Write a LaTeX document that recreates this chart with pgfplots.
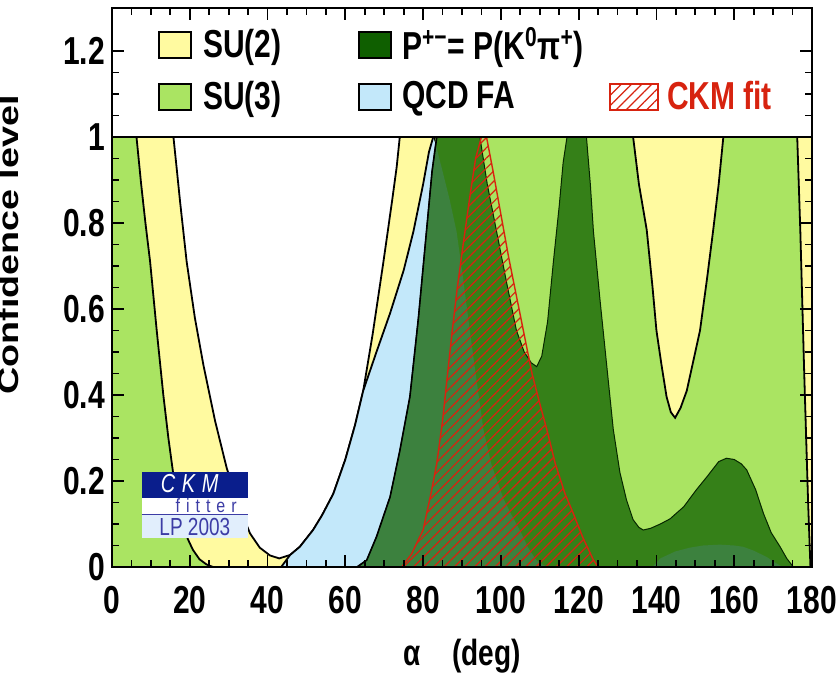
\documentclass[border=0pt]{standalone}
\usepackage{fontspec}
\setmainfont{Liberation Sans}
\usepackage{graphicx}
\usepackage{pgfplots}
\pgfplotsset{compat=1.18}
\usetikzlibrary{patterns.meta}

\definecolor{suyellow}{RGB}{255,250,160}
\definecolor{sugreen}{RGB}{170,228,98}
\definecolor{qcdblue}{RGB}{195,232,250}
\definecolor{pgreen}{RGB}{15,95,0}
\definecolor{ckmred}{RGB}{215,35,15}
\definecolor{ckmblue}{RGB}{10,30,140}
\definecolor{lpblue}{RGB}{225,238,252}
\definecolor{txtblue}{RGB}{60,60,165}

\pgfplotsset{
  legbox/.style={legend image code/.code={\draw[##1] (0pt,-6.5pt) rectangle (16pt,6.5pt);}},
  legboxwide/.style={legend image code/.code={\draw[##1] (0pt,-6.5pt) rectangle (24pt,6.5pt);}},
}
\newcommand\fnt{\fontsize{15}{18}\selectfont\bfseries}
\newcommand\st[1]{\scalebox{1}[1.3]{#1}}
\newcommand\strt{\rule[-6.7pt]{0pt}{20.4pt}}

\begin{document}
\begin{tikzpicture}
\begin{axis}[
  width=350pt, height=279.5pt, scale only axis,
  xmin=0, xmax=180, ymin=0, ymax=1.3,
  xtick={0,20,40,60,80,100,120,140,160,180},
  ytick={0,0.2,0.4,0.6,0.8,1,1.2},
  minor x tick num=3, minor y tick num=3,
  tick align=inside, major tick length=6pt, minor tick length=3.5pt,
  axis line style={line width=1.2pt},
  every tick/.style={black, line width=0.9pt},
  axis on top,
  /pgf/number format/assume math mode=true,
  tick label style={font=\fnt, yscale=1.3},
  xticklabel style={yshift=-4pt},
  xlabel={\st{\fontsize{14}{17}\selectfont\bfseries α\hspace{16pt}(deg)}},
  xlabel style={at={(axis description cs:0.5,-0.1592)}, anchor=center},
  ylabel={\scalebox{1.3}[1]{\fontsize{14.5}{17}\selectfont\bfseries Confidence level}},
  ylabel style={at={(axis description cs:-0.1329,0.576)}, anchor=base},
  legend columns=3,
  legend cell align=left,
  legend style={at={(axis cs:11.83,1.255)}, anchor=north west, draw=none, fill=none,
    inner sep=0pt, outer sep=0pt, column sep=0pt, row sep=9pt,
    nodes={inner sep=0pt, outer sep=0pt}, font=\fnt},
]

% SU(2)
\addplot[forget plot, fill=suyellow, draw=black, line width=0.9pt] coordinates {
(0,1) (15.8,1) (16.6,0.93) (17.5,0.85) (19.2,0.71) (21.3,0.58) (23.5,0.47) (26.5,0.34)
(29.5,0.23) (32.5,0.145) (35.5,0.078) (38,0.045) (40.6,0.027) (43,0.02) (45.8,0.028)
(48.3,0.047) (51.7,0.086) (54,0.12) (56.9,0.17) (60,0.25) (62.5,0.33) (64.6,0.41)
(67,0.54) (69.8,0.71) (72,0.85) (73.2,0.93) (74,1) (180,1)
} \closedcycle;

% SU(3)
\addplot[forget plot, fill=sugreen, draw=black, line width=0.9pt] coordinates {
(0,1) (6.3,1) (7.5,0.89) (8.6,0.8) (9.8,0.71) (11.5,0.55) (13.2,0.40) (14.5,0.30)
(15.7,0.22) (17,0.155) (18.3,0.10) (19.5,0.065) (20.8,0.04) (22.5,0.018) (24.3,0.006)
(26,0) (62,0) (66,0.15) (70,0.35) (74,0.55) (78,0.75) (81,0.92) (83,1) (134,1)
(135.5,0.89) (137.5,0.784) (139,0.65) (140,0.55) (141.3,0.47) (142.6,0.396) (143.7,0.36)
(144.8,0.347) (146.2,0.37) (147.8,0.41) (149.5,0.48) (151.2,0.55) (153,0.67) (154.6,0.784)
(156,0.89) (157.2,1) (176.2,1) (177,0.78) (178,0.45) (179,0.15) (179.6,0) (180,0)
} \closedcycle;

% QCD FA (fill, then outline of its left flank only)
\addplot[forget plot, fill=qcdblue, draw=none] coordinates {
(43.5,0) (45.8,0.028) (48.3,0.047) (51.7,0.086) (54,0.12) (56.9,0.17) (60,0.25)
(62.5,0.33) (64.6,0.41) (68,0.5) (71.5,0.59) (75,0.69) (77.5,0.78) (80,0.89)
(81.5,0.965) (82.6,1) (83.6,0.97) (85,0.92) (86.8,0.855) (88.6,0.78) (90.3,0.67)
(92,0.55) (93.8,0.43) (95.5,0.32) (97.5,0.24) (100.6,0.16) (102.8,0.12) (104.9,0.085)
(107,0.045) (109,0.017) (111,0.004) (113,0) (139,0) (141,0.02) (144.8,0.036)
(148.6,0.045) (152,0.05) (156.3,0.052) (160,0.05) (162.3,0.047) (165,0.038)
(168.4,0.023) (170.5,0.01) (172.5,0)
} \closedcycle;
\addplot[forget plot, draw=black, line width=0.9pt] coordinates {
(43.5,0) (45.8,0.028) (48.3,0.047) (51.7,0.086) (54,0.12) (56.9,0.17) (60,0.25)
(62.5,0.33) (64.6,0.41) (68,0.5) (71.5,0.59) (75,0.69) (77.5,0.78) (80,0.89)
(81.5,0.965) (82.6,1)
};

% P+- = P(K0 pi+)
\addplot[forget plot, fill=pgreen, fill opacity=0.75, draw=black!60!pgreen, line width=0.5pt] coordinates {
(63,0) (65.5,0.016) (68,0.07) (71.5,0.163) (74,0.27) (76.6,0.396) (78.8,0.58)
(80.9,0.784) (82.3,0.92) (83.5,1) (94.6,1) (96.5,0.89) (98.9,0.78) (101.5,0.66)
(104,0.55) (106,0.5) (107.8,0.475) (109.2,0.466) (110.5,0.49) (112,0.57) (113.5,0.71)
(115,0.84) (116,0.94) (117,1) (122,1) (123,0.89) (123.8,0.78) (125.5,0.62)
(127.2,0.47) (128.9,0.32) (130.6,0.22) (132.3,0.156) (134,0.11) (135.5,0.092)
(136.6,0.086) (138.5,0.09) (141,0.1) (143.5,0.112) (147,0.14) (150.3,0.18)
(153,0.21) (156,0.245) (158,0.253) (160,0.25) (161.8,0.24) (163.2,0.226)
(165.5,0.18) (167.5,0.125) (169.5,0.08) (171.8,0.047) (173.5,0.02) (175.2,0)
} \closedcycle;
\addplot[forget plot, draw=black, line width=0.8pt] coordinates {
(63,0) (65.5,0.016) (68,0.07) (71.5,0.163) (74,0.27) (76.6,0.396) (78.8,0.58)
(80.9,0.784) (82.3,0.92) (83.5,1)
};

% CKM fit
\addplot[forget plot, pattern={Lines[angle=45,distance=3.6pt,line width=0.6pt]}, pattern color=ckmred, draw=ckmred, line width=0.7pt] coordinates {
(74.5,0) (77,0.03) (80,0.086) (82,0.17) (83.5,0.24) (85,0.34) (86.3,0.45) (87.5,0.55)
(88.8,0.65) (90.3,0.75) (92,0.86) (93.5,0.95) (95,1) (96.3,1) (98,0.92) (100,0.82)
(102,0.72) (104,0.63) (106,0.54) (108,0.45) (110,0.38) (111.8,0.32) (114,0.24)
(116.5,0.17) (118.6,0.125) (121,0.07) (123.8,0.016) (125,0)
} \closedcycle;

% separator at CL = 1
\addplot[forget plot, black, line width=1.2pt] coordinates {(0,1) (180,1)};

% CKMfitter logo
\fill[ckmblue] (axis cs:7.6,0.16) rectangle (axis cs:35,0.221);
\node[text=white, inner sep=0pt] at (axis cs:20,0.193) {\st{\fontsize{10}{12}\selectfont\itshape C\hspace{3.3pt}K\hspace{3.3pt}M}};
\fill[white] (axis cs:7.6,0.121) rectangle (axis cs:35,0.16);
\draw[txtblue, line width=0.8pt] (axis cs:7.6,0.1225) -- (axis cs:35,0.1225);
\node[text=txtblue, anchor=base, inner sep=0pt] at (axis cs:24.2,0.1275) {\scalebox{1}[1.2]{\fontsize{8}{9}\selectfont f\hspace{3pt}i\hspace{3pt}t\hspace{3pt}t\hspace{3pt}e\hspace{3pt}r}};
\fill[lpblue] (axis cs:7.6,0.067) rectangle (axis cs:35,0.1205);
\node[text=txtblue, inner sep=0pt] at (axis cs:21.3,0.092) {\st{\fontsize{9.5}{11}\selectfont LP 2003}};

% legend
\addlegendimage{legbox, fill=suyellow, draw=black, line width=1pt}
\addlegendentry{\makebox[83pt][l]{\hspace{5.5pt}\strt\st{SU(2)}}}
\addlegendimage{legbox, fill=pgreen, draw=black, line width=1pt}
\addlegendentry{\makebox[108.5pt][l]{\hspace{5pt}\strt\st{P\textsuperscript{+−}= P(K\textsuperscript{0}π\textsuperscript{+})}}}
\addlegendimage{empty legend}
\addlegendentry{\strt}
\addlegendimage{legbox, fill=sugreen, draw=black, line width=1pt}
\addlegendentry{\makebox[83pt][l]{\hspace{5.5pt}\strt\st{SU(3)}}}
\addlegendimage{legbox, fill=qcdblue, draw=black, line width=1pt}
\addlegendentry{\makebox[108.5pt][l]{\hspace{5pt}\strt\st{QCD FA}}}
\addlegendimage{legboxwide, pattern={Lines[angle=45,distance=3.6pt,line width=0.6pt]}, pattern color=ckmred, draw=ckmred, line width=1pt}
\addlegendentry{\makebox[90pt][l]{\hspace{4pt}\strt\textcolor{ckmred}{\st{CKM fit}}}}
\end{axis}
\pgfresetboundingbox
\path ([xshift=-56pt,yshift=-54pt]current axis.south west) rectangle ([xshift=14pt,yshift=4pt]current axis.north east);
\end{tikzpicture}
\end{document}
